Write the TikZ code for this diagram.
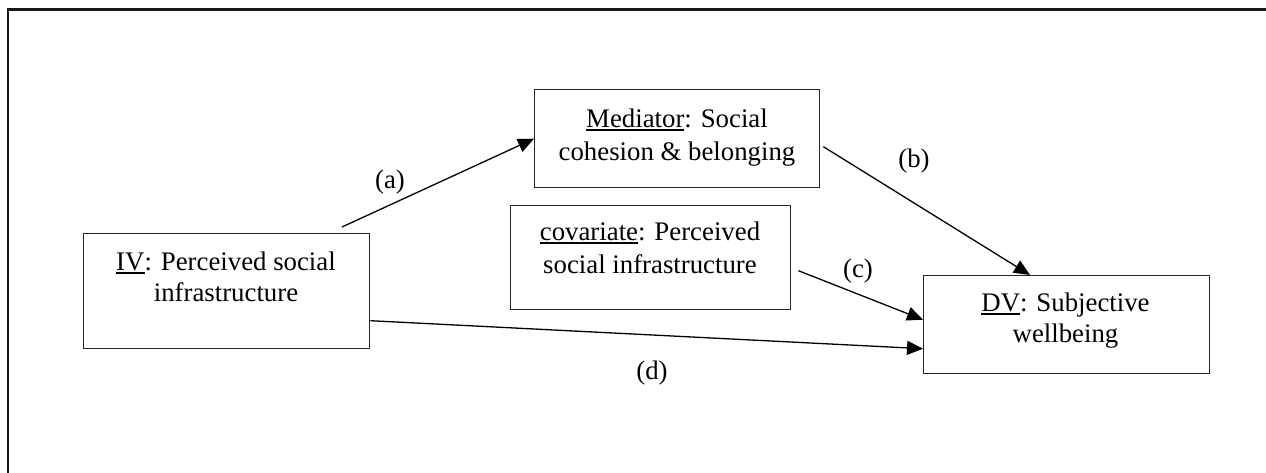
\documentclass[tikz,border=0pt]{standalone}
\usepackage{fontspec}
\setmainfont{Liberation Serif}
\usetikzlibrary{arrows.meta,calc}
\newcommand\myul[1]{\setbox0\hbox{#1}\rlap{\rule[-4pt]{\wd0}{1.7pt}}\box0}
\begin{document}
\begin{tikzpicture}[x=1pt,y=-1pt,
  box/.style={draw=black!85, line width=1.4pt, inner sep=0pt, anchor=north west},
  txt/.style={anchor=base, inner sep=0pt, font=\fontsize{26.8}{32}\selectfont},
  arr/.style={line width=1.3pt, -{Triangle[length=16pt,width=14pt]}}]
\useasboundingbox (0,0) rectangle (1266,472);
\draw[line width=2.2pt, black!90] (8,480) -- (8,9.5) -- (1270,9.5);
% boxes
\node[box, minimum width=286pt, minimum height=115pt] (iv) at (83,233) {};
\node[box, minimum width=285pt, minimum height=98pt] (med) at (534,89) {};
\node[box, minimum width=280pt, minimum height=104pt] (cov) at (510,205) {};
\node[box, minimum width=286pt, minimum height=98pt] (dv) at (923,275) {};
% texts
\node[txt] (iv1) at (226,270) {\myul{IV}: Perceived social};
\node[txt] (iv2) at (226,301.5) {infrastructure};
\node[txt] (med1) at (677,127) {\myul{Mediator}: Social};
\node[txt] (med2) at (677,160) {cohesion \& belonging};
\node[txt] (cov1) at (650,240) {\myul{covariate}: Perceived};
\node[txt] (cov2) at (650,273) {social infrastructure};
\node[txt] (dv1) at (1065.5,311) {\myul{DV}: Subjective};
\node[txt] (dv2) at (1065.5,342) {wellbeing};
% connectors
\coordinate (a0) at (342,227);
\draw[arr] (a0) -- (med.west);
\draw[arr] ($(med.east)+(3,8)$) -- ($(dv.north west)+(107,0)$);
\draw[arr] ($(cov.east)+(7,13)$) -- ($(dv.west)+(0,-5)$);
\draw[arr] ($(iv.east)+(0,29.5)$) -- ($(dv.west)+(0,24)$);
% labels
\node[txt] (la) at (390,188) {(a)};
\node[txt] (lb) at (914,167) {(b)};
\node[txt] (lc) at (858,277) {(c)};
\node[txt] (ld) at (652,379) {(d)};
\end{tikzpicture}
\end{document}
